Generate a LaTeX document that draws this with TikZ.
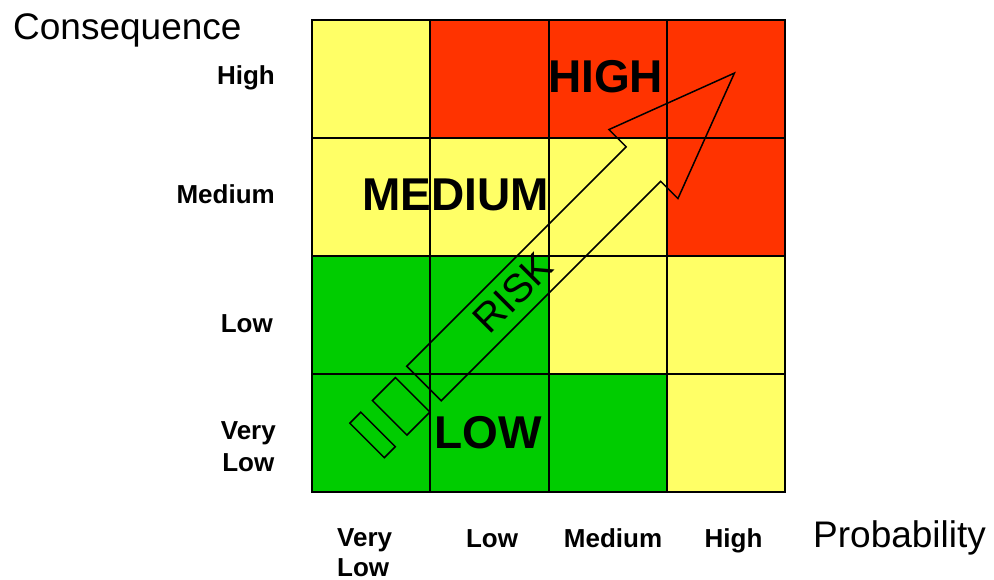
\documentclass[tikz,border=0pt]{standalone}
\usepackage{fontspec}
\setmainfont{Liberation Sans}
\usepackage{tikz}

\definecolor{riskYellow}{HTML}{FFFF66}
\definecolor{riskRed}{HTML}{FF3300}
\definecolor{riskGreen}{HTML}{00CC00}

\begin{document}
\begin{tikzpicture}[
  x=1pt, y=-1pt,
  cellbox/.style={draw=black, line width=2pt},
  arrowline/.style={draw=black, line width=1.5pt, line join=miter},
  axlab/.style={font=\fontsize{26}{32}\selectfont\bfseries, inner sep=0pt},
  bigword/.style={font=\fontsize{46}{50}\selectfont\bfseries, inner sep=0pt},
  riskword/.style={font=\fontsize{40}{42}\selectfont, inner sep=0pt},
  axtitle/.style={font=\fontsize{37}{40}\selectfont, inner sep=0pt},
]
\useasboundingbox (0,0) rectangle (994,580);

% ---- Matrix cells (column/row/colour) --------------------------------------
\foreach \col/\row/\clr in {0/0/riskYellow, 1/0/riskRed,    2/0/riskRed,    3/0/riskRed,
                            0/1/riskYellow, 1/1/riskYellow, 2/1/riskYellow, 3/1/riskRed,
                            0/2/riskGreen,  1/2/riskGreen,  2/2/riskYellow, 3/2/riskYellow,
                            0/3/riskGreen,  1/3/riskGreen,  2/3/riskGreen,  3/3/riskYellow}
  \draw[cellbox, fill=\clr] (312+118.25*\col, 20+118*\row) rectangle ++(118.25,118);

% ---- Risk arrow (outline only) ---------------------------------------------
\begin{scope}[shift={(424,383.5)}, rotate=45]
  \draw[arrowline] (0,-24.4) -- (310.3,-24.4) -- (310.3,-48.8) -- (439,0)
                   -- (310.3,48.8) -- (310.3,24.4) -- (0,24.4) -- cycle;
  \draw[arrowline] (-16,-24.4) -- (-48.5,-24.4) -- (-48.5,24.4) -- (-16,24.4) -- cycle;
  \draw[arrowline] (-65,-24.4) -- (-80.5,-24.4) -- (-80.5,24.4) -- (-65,24.4) -- cycle;
\end{scope}
\node[riskword, rotate=45] (wRisk) at (513,293) {RISK};

% ---- Zone words ------------------------------------------------------------
\node[bigword] (wHigh) at (605.5,77) {HIGH};
\node[bigword] (wMed) at (455.5,195) {MEDIUM};
\node[bigword] (wLow) at (488,433) {LOW};

% ---- Consequence axis ------------------------------------------------------
\node[axtitle, anchor=base west] (consLab) at (13,40) {Consequence};
\node[axlab, anchor=base east] (cHigh) at (275,85) {High};
\node[axlab, anchor=base east] (cMed) at (275,204) {Medium};
\node[axlab, anchor=base east] (cLow) at (273,332) {Low};
\node[axlab, anchor=base east, align=center] (cVLow) at (276,471) {Very\\Low};

% ---- Probability axis ------------------------------------------------------
\node[axlab, anchor=base west, align=left] (pVLow) at (337,576) {Very\\[-2pt]Low};
\node[axlab, anchor=base] (pLow) at (492,547) {Low};
\node[axlab, anchor=base] (pMed) at (613,547) {Medium};
\node[axlab, anchor=base] (pHigh) at (733.5,547) {High};
\node[axtitle, anchor=base west] (probLab) at (813,547) {Probability};

\end{tikzpicture}
\end{document}
